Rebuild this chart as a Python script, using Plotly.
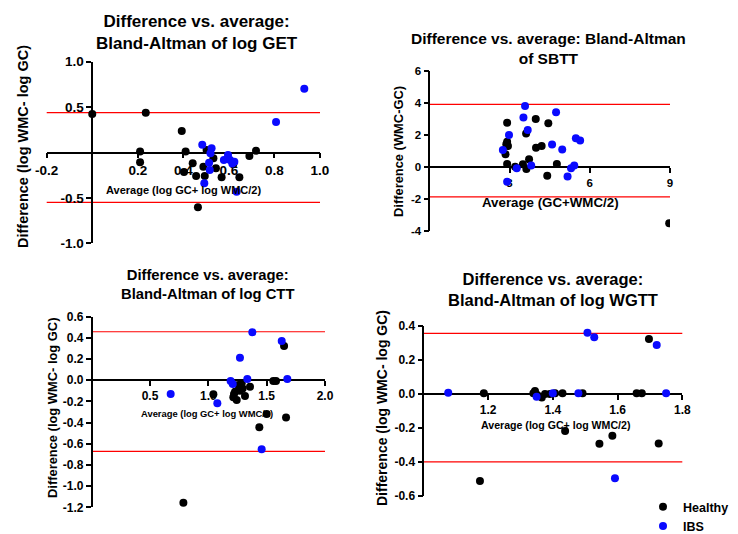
import plotly.graph_objects as go

W, H = 738, 534

# ---------- data ----------
# Panel 1: log GET
get_h_x = [0.00, 0.235, 0.393, 0.210, 0.210, 0.410, 0.403, 0.441, 0.456, 0.464, 0.488, 0.494, 0.502, 0.532, 0.543, 0.568, 0.619, 0.646, 0.690, 0.719]
get_h_y = [0.424, 0.439, 0.237, 0.010, -0.108, 0.010, -0.215, -0.119, -0.259, -0.604, -0.156, -0.259, 0.028, -0.064, -0.174, -0.273, -0.130, -0.273, -0.039, 0.020]
get_i_x = [0.931, 0.807, 0.483, 0.524, 0.519, 0.513, 0.516, 0.492, 0.578, 0.596, 0.605, 0.624, 0.634, 0.615]
get_i_y = [0.703, 0.336, 0.086, 0.046, -0.009, -0.112, -0.193, -0.339, -0.083, -0.028, -0.083, -0.101, -0.431, -0.120]
get_loa = [0.44, -0.55]

# Panel 2: SBTT
sb_h_x = [2.91, 2.91, 2.88, 2.94, 2.85, 2.91, 3.21, 3.50, 3.63, 3.62, 3.73, 3.98, 3.99, 4.20, 4.45, 4.41, 4.77, 8.97]
sb_h_y = [2.77, 1.58, 1.42, 1.31, 0.79, 0.19, 0.02, 0.17, -0.13, 2.10, 0.48, 3.00, 1.21, 1.31, 2.73, -0.54, 0.19, -3.52]
sb_i_x = [3.58, 3.52, 3.68, 4.74, 2.98, 2.75, 3.27, 2.91, 3.81, 4.59, 4.97, 5.17, 5.30, 5.42, 5.48, 5.64]
sb_i_y = [3.81, 3.10, 2.31, 3.42, 2.00, 1.06, -0.08, -0.92, 0.10, 1.40, 1.10, -0.60, -0.08, 0.10, 1.79, 1.65]
sb_loa = [3.92, -1.87]

# Panel 3: log CTT
ct_h_x = [0.786, 1.043, 1.214, 1.243, 1.229, 1.257, 1.286, 1.294, 1.314, 1.357, 1.437, 1.500, 1.557, 1.580, 1.649, 1.666, 1.220, 1.270]
ct_h_y = [-1.156, -0.133, -0.161, -0.187, -0.108, -0.045, -0.029, -0.077, -0.149, -0.061, -0.445, -0.319, -0.007, -0.007, 0.323, -0.353, -0.130, -0.100]
ct_i_x = [0.677, 1.077, 1.191, 1.209, 1.271, 1.334, 1.377, 1.629, 1.677, 1.457]
ct_i_y = [-0.130, -0.218, -0.007, -0.036, 0.213, 0.012, 0.452, 0.370, 0.012, -0.652]
ct_loa = [0.458, -0.671]

# Panel 4: log WGTT
wg_h_x = [1.175, 1.187, 1.345, 1.340, 1.352, 1.366, 1.376, 1.391, 1.407, 1.430, 1.438, 1.492, 1.544, 1.584, 1.659, 1.675, 1.697, 1.727]
wg_h_y = [-0.512, 0.003, 0.016, 0.003, -0.007, -0.021, -0.001, -0.001, 0.003, 0.003, -0.218, 0.003, -0.293, -0.246, 0.003, 0.003, 0.322, -0.291]
wg_i_x = [1.077, 1.350, 1.400, 1.479, 1.507, 1.528, 1.721, 1.750, 1.592]
wg_i_y = [0.007, -0.017, 0.003, 0.003, 0.359, 0.332, 0.286, 0.003, -0.496]
wg_loa = [0.355, -0.40]

group_names = ["Healthy", "IBS"]

# ---------- styling ----------
BLACK = "#000000"
BLUE = "#0a0aff"
FONT = "Liberation Sans"


def px2x(px):
    return px / W


def px2y(py):
    return 1 - py / H


panels = [
    dict(
        hx=get_h_x, hy=get_h_y, ix=get_i_x, iy=get_i_y, loa=get_loa,
        xr=[-0.2, 1.0], yr=[-1.0, 1.0],
        xt=[-0.2, 0, 0.2, 0.4, 0.6, 0.8, 1.0], xl=["-0.2", "", "0.2", "0.4", "0.6", "0.8", "1.0"],
        yt=[-1.0, -0.5, 0, 0.5, 1.0], yl=["-1.0", "-0.5", "", "0.5", "1.0"],
        dom_x=[46.7, 320.0], dom_y=[61.7, 243.3], tick=13.5,
        title="Difference vs. average:<br>Bland-Altman of log GET", tpos=(197, 32), tsize=17,
        xtitle="Average (log GC+ log WMC/2)", xtpos=(183, 190), xtsize=11,
        ytitle="Difference (log WMC- log GC)", ytpos=(23, 147), ytsize=14.5,
    ),
    dict(
        hx=sb_h_x, hy=sb_h_y, ix=sb_i_x, iy=sb_i_y, loa=sb_loa,
        xr=[0, 9], yr=[-4, 6],
        xt=[0, 3, 6, 9], xl=["", "3", "6", "9"],
        yt=[-4, -2, 0, 2, 4, 6], yl=["-4", "-2", "0", "2", "4", "6"],
        dom_x=[429.3, 670.0], dom_y=[71.0, 231.0], tick=11.5,
        title="Difference vs. average: Bland-Altman<br>of SBTT", tpos=(548, 48.5), tsize=15.5,
        xtitle="Average (GC+WMC/2)", xtpos=(550, 203), xtsize=13.3,
        ytitle="Difference (WMC-GC)", ytpos=(398, 152), ytsize=12.9,
    ),
    dict(
        hx=ct_h_x, hy=ct_h_y, ix=ct_i_x, iy=ct_i_y, loa=ct_loa,
        xr=[0, 2.0], yr=[-1.2, 0.6],
        xt=[0, 0.5, 1.0, 1.5, 2.0], xl=["", "0.5", "1.0", "1.5", "2.0"],
        yt=[-1.2, -1.0, -0.8, -0.6, -0.4, -0.2, 0, 0.2, 0.4, 0.6],
        yl=["-1.2", "-1.0", "-0.8", "-0.6", "-0.4", "-0.2", "0.0", "0.2", "0.4", "0.6"],
        dom_x=[91.7, 325.0], dom_y=[316.7, 507.3], tick=12,
        title="Difference vs. average:<br>Bland-Altman of log CTT", tpos=(208, 284), tsize=14.8,
        xtitle="Average (log GC+ log WMC/2)", xtpos=(207, 413), xtsize=9.4,
        ytitle="Difference (log WMC- log GC)", ytpos=(52, 408), ytsize=12.9,
    ),
    dict(
        hx=wg_h_x, hy=wg_h_y, ix=wg_i_x, iy=wg_i_y, loa=wg_loa,
        xr=[1.0, 1.8], yr=[-0.6, 0.4],
        xt=[1.0, 1.2, 1.4, 1.6, 1.8], xl=["", "1.2", "1.4", "1.6", "1.8"],
        yt=[-0.6, -0.4, -0.2, 0, 0.2, 0.4], yl=["-0.6", "-0.4", "-0.2", "0.0", "0.2", "0.4"],
        dom_x=[423.3, 682.3], dom_y=[325.7, 496.0], tick=12,
        title="Difference vs. average:<br>Bland-Altman of log WGTT", tpos=(553, 289), tsize=16.5,
        xtitle="Average (log GC+ log WMC/2)", xtpos=(555, 425), xtsize=10.6,
        ytitle="Difference (log WMC- log GC)", ytpos=(382, 408), ytsize=14,
    ),
]

fig = go.Figure()
layout = {}
annotations = []
shapes = []

for k, p in enumerate(panels, start=1):
    sfx = "" if k == 1 else str(k)
    xa, ya = "x" + sfx, "y" + sfx
    for xs, ys, col, name in [(p["hx"], p["hy"], BLACK, group_names[0]), (p["ix"], p["iy"], BLUE, group_names[1])]:
        fig.add_trace(go.Scatter(
            x=xs, y=ys, mode="markers", xaxis=xa, yaxis=ya,
            marker=dict(color=col, size=8, line=dict(width=0)),
            name=name, legendgroup=name, showlegend=(k == 1),
        ))
    x0, x1 = p["xr"]
    y0, y1 = p["yr"]
    dx = [px2x(p["dom_x"][0]), px2x(p["dom_x"][1])]
    dy = [px2y(p["dom_y"][1]), px2y(p["dom_y"][0])]
    # position of the crossing axes (x = 0 / y = 0)
    xcross = max(x0, min(0.0, x1))
    ycross = max(y0, min(0.0, y1))
    ypos_of_xaxis = dy[0] + (ycross - y0) / (y1 - y0) * (dy[1] - dy[0])
    xpos_of_yaxis = dx[0] + (xcross - x0) / (x1 - x0) * (dx[1] - dx[0])
    tickfont = dict(family=FONT, size=p["tick"], color="#000", weight="bold")
    layout["xaxis" + sfx] = dict(
        domain=dx, range=[x0, x1], anchor="free", position=ypos_of_xaxis,
        showgrid=False, zeroline=False, showline=True, linecolor="#000", linewidth=1.6,
        ticks="outside", ticklen=5, tickwidth=1.6, tickcolor="#000", automargin=False,
        tickvals=p["xt"], ticktext=p["xl"], tickfont=tickfont, layer="below traces",
    )
    layout["yaxis" + sfx] = dict(
        domain=dy, range=[y0, y1], anchor="free", position=xpos_of_yaxis,
        showgrid=False, zeroline=False, showline=True, linecolor="#000", linewidth=1.6,
        ticks="outside", ticklen=5, tickwidth=1.6, tickcolor="#000", automargin=False,
        tickvals=p["yt"], ticktext=p["yl"], tickfont=tickfont, layer="below traces",
    )
    for v in p["loa"]:
        shapes.append(dict(type="line", xref=xa + " domain", yref=ya, x0=0, x1=1, y0=v, y1=v,
                           line=dict(color="#ff0000", width=1.2), layer="below"))
    annotations.append(dict(text=p["title"], x=px2x(p["tpos"][0]), y=px2y(p["tpos"][1]),
                            xref="paper", yref="paper", showarrow=False, xanchor="center", yanchor="middle",
                            font=dict(family=FONT, size=p["tsize"], color="#000", weight="bold")))
    annotations.append(dict(text=p["xtitle"], x=px2x(p["xtpos"][0]), y=px2y(p["xtpos"][1]),
                            xref="paper", yref="paper", showarrow=False, xanchor="center", yanchor="middle",
                            font=dict(family=FONT, size=p["xtsize"], color="#000", weight="bold")))
    annotations.append(dict(text=p["ytitle"], x=px2x(p["ytpos"][0]), y=px2y(p["ytpos"][1]),
                            xref="paper", yref="paper", showarrow=False, xanchor="center", yanchor="middle",
                            textangle=-90,
                            font=dict(family=FONT, size=p["ytsize"], color="#000", weight="bold")))

fig.update_layout(
    width=W, height=H, margin=dict(l=0, r=0, t=0, b=0, autoexpand=False),
    paper_bgcolor="#fff", plot_bgcolor="rgba(0,0,0,0)",
    showlegend=True,
    legend=dict(x=px2x(643), y=px2y(492), xanchor="left", yanchor="top",
                font=dict(family=FONT, size=12.5, color="#000", weight="bold"),
                bgcolor="rgba(0,0,0,0)", tracegroupgap=0, itemwidth=30),
    annotations=annotations, shapes=shapes,
    **layout,
)

fig.write_html(
    "out.html",
    config={"displayModeBar": False},
    post_script="document.body.style.margin='0';document.body.style.overflow='hidden';",
)
